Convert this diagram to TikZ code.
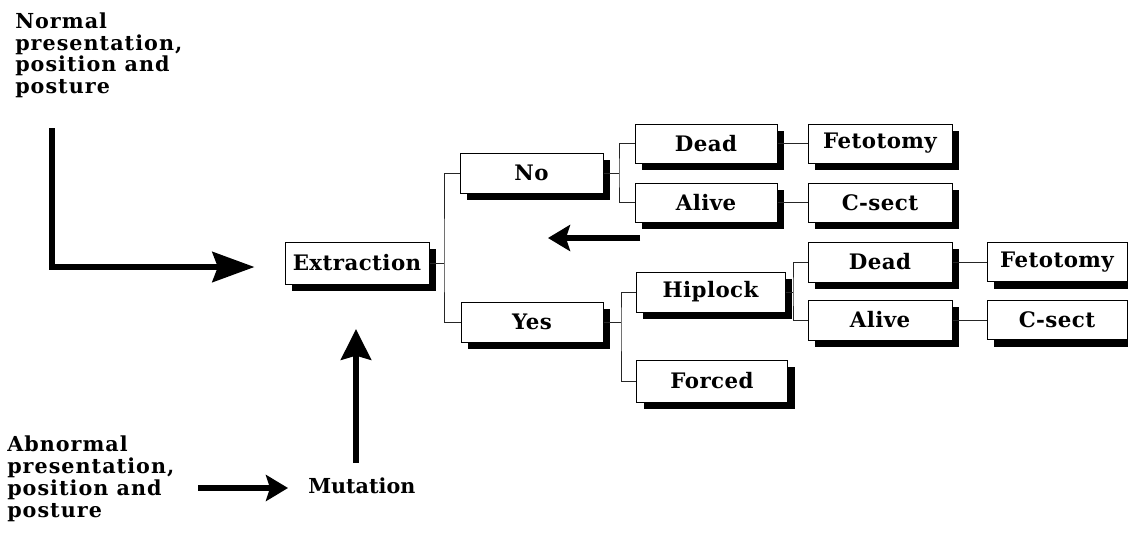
\documentclass[tikz,border=0pt]{standalone}
\usepackage{fontspec}
\setmainfont{DejaVu Serif}
\newfontfamily\lblfont{DejaVu Serif}[LetterSpace=5]
\newfontfamily\boxfont{DejaVu Serif}[LetterSpace=2]
\usetikzlibrary{arrows.meta,shadows}
\begin{document}
\begin{tikzpicture}[x=0.75pt,y=-0.75pt,
  box/.style={draw=black, line width=0.75pt, fill=white, inner sep=0pt,
    font=\boxfont\fontsize{16}{18}\selectfont\bfseries,
    drop shadow={shadow xshift=5.25pt, shadow yshift=-5.25pt, opacity=1, fill=black}},
  conn/.style={draw=black!85, line width=0.7pt},
  lbl/.style={align=left, inner sep=0pt, anchor=north west,
    font=\lblfont\fontsize{15.5}{16.3}\selectfont\bfseries},
  bigarrow/.style={line width=4.5pt, -{Stealth[length=31.5pt, width=22.5pt, inset=4pt]}},
  uparrow/.style={line width=4.5pt, -{Stealth[length=23pt, width=22.5pt, inset=3pt]}},
  smallarrow/.style={line width=4pt, -{Stealth[length=16.5pt, width=19.5pt, inset=3pt]}}
]
\useasboundingbox (0,0) rectangle (1128,537);

% boxes
\node[box, minimum width=108pt, minimum height=31.5pt] (ext) at (357,263) {Extraction};
\node[box, minimum width=107.25pt, minimum height=30pt] (no) at (531.5,173) {No};
\node[box, minimum width=106.5pt, minimum height=30pt] (yes) at (532,322) {Yes};
\node[box, minimum width=106.5pt, minimum height=29.25pt] (dead1) at (706,143.5) {Dead};
\node[box, minimum width=106.5pt, minimum height=29.25pt] (alive1) at (706,202.5) {Alive};
\node[box, minimum width=108pt, minimum height=29.25pt] (fet1) at (880,143.5) {Fetotomy};
\node[box, minimum width=108pt, minimum height=29.25pt] (cs1) at (880,202.5) {C-sect};
\node[box, minimum width=111.75pt, minimum height=30pt] (hip) at (710.5,292) {Hiplock};
\node[box, minimum width=113.25pt, minimum height=31.5pt] (forced) at (712,381) {Forced};
\node[box, minimum width=108pt, minimum height=30pt] (dead2) at (880,262) {Dead};
\node[box, minimum width=108pt, minimum height=30pt] (alive2) at (880,320) {Alive};
\node[box, minimum width=105pt, minimum height=29.25pt] (fet2) at (1057,262) {Fetotomy};
\node[box, minimum width=105pt, minimum height=29.25pt] (cs2) at (1057,320) {C-sect};

% junctions
\coordinate (j1) at (444,263);
\coordinate (j2) at (619,173);
\coordinate (j3) at (621,322);
\coordinate (j4) at (793,292);

\draw[conn] (ext.east) -- (j1);
\draw[conn] (no.west) -| (j1) |- (yes.west);
\draw[conn] (no.east) -- (j2);
\draw[conn] (dead1.west) -| (j2) |- (alive1.west);
\draw[conn] (yes.east) -- (j3);
\draw[conn] (hip.west) -| (j3) |- (forced.west);
\draw[conn] (hip.east) -- (j4);
\draw[conn] (dead2.west) -| (j4) |- (alive2.west);
\draw[conn] (dead1.east) -- (fet1.west);
\draw[conn] (alive1.east) -- (cs1.west);
\draw[conn] (dead2.east) -- (fet2.west);
\draw[conn] (alive2.east) -- (cs2.west);

% labels
\node[lbl] (normal) at (15,12.5) {Normal\\presentation,\\position and\\posture};
\node[lbl] (abn) at (7,436) {Abnormal\\presentation,\\position and\\posture};
\node[font=\fontsize{15.5}{17}\selectfont\bfseries, inner sep=0pt, anchor=base west] (mut) at (308,493) {Mutation};

% arrows
\coordinate (n1) at (52,128);
\draw[bigarrow, shorten >=22.5pt] (n1) |- ([yshift=-3pt]ext.west);
\coordinate (la1) at (640,238);
\coordinate (la2) at (548,238);
\draw[smallarrow] (la1) -- (la2);
\coordinate (m0) at (356,463);
\coordinate (m1) at (356,329);
\draw[uparrow] (m0) -- (m1);
\coordinate (a0) at (198,488);
\draw[smallarrow, shorten >=15pt] (a0) -- (a0 -| mut.west);
\end{tikzpicture}
\end{document}
